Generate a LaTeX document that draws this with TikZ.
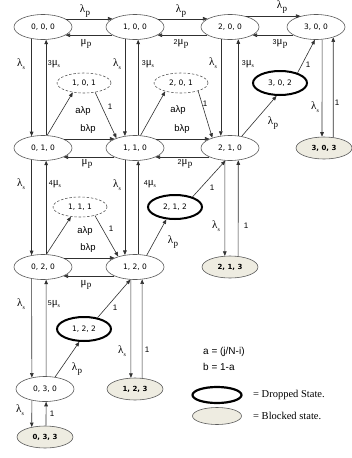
\documentclass[tikz,border=0pt]{standalone}
\usepackage{fontspec}
\setmainfont{Liberation Serif}
\newfontfamily\dvs{DejaVu Sans}
\newfontfamily\lsans{Liberation Sans}
\usetikzlibrary{arrows.meta,shapes.geometric}
\definecolor{ebd}{HTML}{5A5A5A}
\definecolor{lnc}{HTML}{303030}
\definecolor{blkfill}{HTML}{EEECE1}
\newcommand\nf{\dvs\fontsize{7.5}{8}\selectfont}
\newcommand\nfb{\dvs\bfseries\fontsize{7}{8}\selectfont}
\newcommand\gf{\fontsize{11}{12}\selectfont}
\newcommand\sfn{\lsans\fontsize{8}{9}\selectfont}
\newcommand\abf{\lsans\fontsize{9.5}{10}\selectfont}
\newcommand\legf{\fontsize{10.5}{11}\selectfont}
\newcommand\LamP{λ\kern0.3pt\raisebox{-0.5ex}{\fontsize{9}{9}\selectfont p}}
\newcommand\MuP{μ\kern0.3pt\raisebox{-0.5ex}{\fontsize{9}{9}\selectfont p}}
\newcommand\LamS{λ\raisebox{-0.5ex}{\fontsize{6}{6}\selectfont s}}
\newcommand\MuS{μ\raisebox{-0.5ex}{\fontsize{6}{6}\selectfont s}}
\newcommand\cf[1]{{\lsans\fontsize{7}{7}\selectfont #1}}
\begin{document}
\begin{tikzpicture}[x=1pt,y=-1pt,
  st/.style={ellipse,draw=ebd,fill=white,line width=0.6pt,minimum width=58pt,minimum height=25pt,inner sep=0pt,font=\nf},
  dst/.style={st,dash pattern=on 2.5pt off 1.8pt,minimum width=54pt,minimum height=20pt},
  thk/.style={st,draw=black,line width=2pt,minimum width=54pt,minimum height=24pt},
  blkd/.style={st,fill=blkfill,minimum width=56pt,minimum height=22pt,font=\nfb},
  arr/.style={draw=lnc,line width=0.6pt,-{Triangle[length=4.5pt,width=3.6pt]}},
  gl/.style={inner sep=0pt,font=\gf},
  sl/.style={inner sep=0pt,font=\sfn},
  al/.style={inner sep=0pt,font=\abf},
]
\fill[white] (0,0) rectangle (352,458);
\useasboundingbox (0,0) rectangle (352,458);

% states
\node[st] (n000) at (43,27) {0, 0, 0};
\node[st] (n100) at (135,27) {1, 0, 0};
\node[st] (n200) at (230,27) {2, 0, 0};
\node[st] (n300) at (316,27) {3, 0, 0};
\node[st] (n010) at (43,148) {0, 1, 0};
\node[st] (n110) at (135,148) {1, 1, 0};
\node[st] (n210) at (230,148) {2, 1, 0};
\node[st] (n020) at (43,267) {0, 2, 0};
\node[st] (n120) at (135,267) {1, 2, 0};
\node[st] (n030) at (45,389) {0, 3, 0};
\node[dst] (n101) at (84,83) {1, 0, 1};
\node[dst] (n201) at (181,83) {2, 0, 1};
\node[dst] (n111) at (80,207) {1, 1, 1};
\node[thk] (n302) at (280,83) {3, 0, 2};
\node[thk] (n212) at (175,207) {2, 1, 2};
\node[thk] (n122) at (84,329) {1, 2, 2};
\node[blkd] (n303) at (324,148) {3, 0, 3};
\node[blkd] (n213) at (230,267) {2, 1, 3};
\node[blkd] (n123) at (135,389) {1, 2, 3};
\node[blkd] (n033) at (45,437) {0, 3, 3};

% horizontal
\draw[arr] (n000.20) -- (n100.160);
\draw[arr] (n100.200) -- (n000.340);
\draw[arr] (n100.20) -- (n200.160);
\draw[arr] (n200.200) -- (n100.340);
\draw[arr] (n200.35) -- (n300.145);
\draw[arr] (n300.200) -- (n200.340);
\draw[arr] (n010.24) -- (n110.156);
\draw[arr] (n110.204) -- (n010.336);
\draw[arr] (n110.24) -- (n210.156);
\draw[arr] (n210.204) -- (n110.336);
\draw[arr] (n020.24) -- (n120.156);
\draw[arr] (n120.204) -- (n020.336);

% vertical
\draw[arr] (n000.226) -- (n010.134);
\draw[arr] (n010.76) -- (n000.284);
\draw[arr] (n010.226) -- (n020.134);
\draw[arr] (n020.76) -- (n010.284);
\draw[arr] (n020.226) -- (n030.139);
\draw[arr] (n030.85) -- (n020.284);
\draw[arr] (n030.221) -- (n033.143);
\draw[arr] (n033.85) -- (n030.275);
\draw[arr] (n100.230) -- (n110.130);
\draw[arr] (n110.76) -- (n100.284);
\draw[arr] (n110.230) -- (n120.130);
\draw[arr] (n120.76) -- (n110.284);
\draw[arr] (n120.252) -- (n123.110);
\draw[arr] (n123.57) -- (n120.300);
\draw[arr] (n200.233) -- (n210.127);
\draw[arr] (n210.56) -- (n200.304);
\draw[arr] (n210.248) -- (n213.115);
\draw[arr] (n213.53) -- (n210.304);
\draw[arr] (n300.296) -- (n303.100);
\draw[arr] (n303.49) -- (n300.329);

% diagonal
\draw[arr] (n010.72) -- (n101.220);
\draw[arr] (n101.320) -- (n110.152);
\draw[arr] (n110.66) -- (n201.208);
\draw[arr] (n201.335) -- (n210.150);
\draw[arr] (n020.75) -- (n111.227);
\draw[arr] (n111.330) -- (n120.148);
\draw[arr] (n120.45) -- (n212.235);
\draw[arr] (n212.30) -- (n210.250);
\draw[arr] (n210.45) -- (n302.255);
\draw[arr] (n302.30) -- (n300.265);
\draw[arr] (n030.50) -- (n122.250);
\draw[arr] (n122.40) -- (n120.250);

% horizontal labels
\node[gl] (h1) at (85,11) {\LamP};
\node[gl] (h2) at (86,44) {\MuP};
\node[gl] (h3) at (181,11) {\LamP};
\node[gl] (h4) at (181,44) {\cf{2}\MuP};
\node[gl] (h5) at (282,7) {\LamP};
\node[gl] (h6) at (280,44) {\cf{3}\MuP};
\node[al] (h7) at (88,129) {bλp};
\node[gl] (h8) at (87,164) {\MuP};
\node[al] (h9) at (182,129) {bλp};
\node[gl] (h10) at (185,164) {\cf{2}\MuP};
\node[al] (h11) at (88,248) {bλp};
\node[gl] (h12) at (86,285) {\MuP};

% vertical labels
\node[gl] (v1) at (21,64) {\LamS};
\node[gl] (v2) at (54,64) {\cf{3}\MuS};
\node[gl] (v3) at (117,64) {\LamS};
\node[gl] (v4) at (148,64) {\cf{3}\MuS};
\node[gl] (v5) at (213,63) {\LamS};
\node[gl] (v6) at (248,64) {\cf{3}\MuS};
\node[gl] (v7) at (21,184) {\LamS};
\node[gl] (v8) at (55,184) {\cf{4}\MuS};
\node[gl] (v9) at (117,185) {\LamS};
\node[gl] (v10) at (150,184) {\cf{4}\MuS};
\node[gl] (v11) at (21,304) {\LamS};
\node[gl] (v12) at (54,304) {\cf{5}\MuS};
\node[gl] (v13) at (20,410) {\LamS};
\node[sl] (v14) at (52,414) {1};
\node[gl] (v15) at (122,351) {\LamS};
\node[sl] (v16) at (147,350) {1};
\node[gl] (v17) at (216,226) {\LamS};
\node[sl] (v18) at (246,226) {1};
\node[gl] (v19) at (315,107) {\LamS};
\node[sl] (v20) at (337,103) {1};

% diagonal labels
\node[al] (d1) at (83,111) {aλp};
\node[sl] (d2) at (110,107) {1};
\node[al] (d3) at (178,110) {aλp};
\node[sl] (d4) at (205,104) {1};
\node[al] (d5) at (85,231) {aλp};
\node[sl] (d6) at (111,229) {1};
\node[gl] (d7) at (173,242) {\LamP};
\node[sl] (d8) at (212,188) {1};
\node[gl] (d9) at (273,123) {\LamP};
\node[sl] (d10) at (308,65) {1};
\node[gl] (d11) at (77,369) {\LamP};
\node[sl] (d12) at (115,308) {1};

% legend
\node[anchor=west,inner sep=0pt,font=\lsans\fontsize{10}{11}\selectfont] (la) at (203,352) {a = (j/N-i)};
\node[anchor=west,inner sep=0pt,font=\lsans\fontsize{10}{11}\selectfont] (lb) at (203,367) {b = 1-a};
\node[thk,minimum width=49pt,minimum height=16pt,line width=2.2pt] (legd) at (217,395) {};
\node[blkd,minimum width=49pt,minimum height=17pt] (legb) at (217,416) {};
\node[anchor=west,inner sep=0pt,font=\legf] (legdt) at (253,395) {= Dropped State.};
\node[anchor=west,inner sep=0pt,font=\legf] (legbt) at (253,416) {= Blocked state.};
\end{tikzpicture}
\end{document}
